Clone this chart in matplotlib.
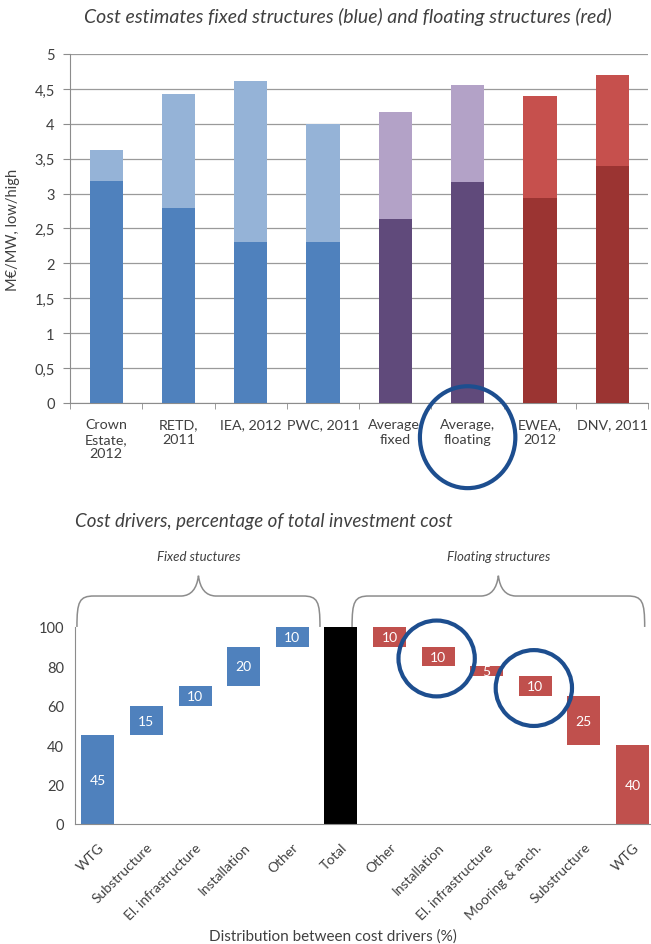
import matplotlib.pyplot as plt
import numpy as np
from matplotlib.patches import Ellipse, PathPatch
from matplotlib.path import Path
import matplotlib.transforms as mtransforms

plt.rcParams['font.family'] = ['Lato', 'DejaVu Sans']

# top chart data
sources = ["Crown\nEstate,\n2012", "RETD,\n2011", "IEA, 2012", "PWC, 2011",
           "Average,\nfixed", "Average,\nfloating", "EWEA,\n2012", "DNV, 2011"]
cost_low = [3.18, 2.8, 2.3, 2.3, 2.64, 3.17, 2.93, 3.4]
cost_high = [3.62, 4.42, 4.62, 4.0, 4.17, 4.56, 4.4, 4.7]
kind = ["fixed", "fixed", "fixed", "fixed", "avg", "avg", "float", "float"]

# bottom chart data
drivers = ["WTG", "Substructure", "El. infrastructure", "Installation", "Other", "Total",
           "Other", "Installation", "El. infrastructure", "Mooring & anch.", "Substructure", "WTG"]
fixed_share = [45, 15, 10, 20, 10]
floating_share = [10, 10, 5, 10, 25, 40]
total_share = 100

dark = {"fixed": "#4F81BD", "avg": "#604A7B", "float": "#9B3432"}
light = {"fixed": "#95B3D7", "avg": "#B3A2C7", "float": "#C6504D"}
txt = "#404040"
grey = "#8C8C8C"
ring = "#1D4E8F"

fig = plt.figure(figsize=(6.51, 9.45), dpi=100)

#Plot 1
ax1 = fig.add_axes([0.1075, 0.5725, 0.8885, 0.3693])
x = np.arange(len(sources))
lo = np.array(cost_low)
hi = np.array(cost_high)
ax1.bar(x, lo, width=0.46, color=[dark[k] for k in kind], zorder=3)
ax1.bar(x, hi - lo, bottom=lo, width=0.46, color=[light[k] for k in kind], zorder=3)
ax1.set_xlim(-0.5, 7.5)
ax1.set_ylim(0, 5)
ax1.set_yticks(np.arange(0, 5.01, 0.5))
ax1.set_yticklabels([("%g" % v).replace(".", ",") for v in np.arange(0, 5.01, 0.5)])
ax1.yaxis.grid(True, color="#9A9A9A", lw=0.9, zorder=0)
ax1.set_xticks(x)
ax1.set_xticklabels(sources, fontsize=10.3, color=txt, linespacing=1.25)
ax1.set_xticks(np.arange(-0.5, 8, 1), minor=True)
ax1.tick_params(axis="x", which="major", length=0, pad=11)
ax1.tick_params(axis="x", which="minor", length=4, color=grey)
ax1.tick_params(axis="y", length=5, color=grey, labelsize=10.5, labelcolor=txt, pad=6)
for s in ["top", "right"]:
    ax1.spines[s].set_visible(False)
for s in ["left", "bottom"]:
    ax1.spines[s].set_color(grey)
ax1.set_ylabel("M€/MW, low/high", fontsize=10.5, color=txt, labelpad=10)
fig.text(0.535, 0.982, "Cost estimates fixed structures (blue) and floating structures (red)",
         ha="center", va="center", style="italic", fontsize=14, color=txt)
# ring around "Average, floating"
ax1.add_patch(Ellipse((5, -0.49), 1.32, 1.46, fill=False, ec=ring, lw=3,
                      clip_on=False, zorder=5))

#Plot 2
ax2 = fig.add_axes([0.1152, 0.127, 0.8848, 0.2085])
pos = np.arange(len(drivers))
fixed_bottom = np.concatenate([[0], np.cumsum(fixed_share)[:-1]])
float_top = total_share - np.concatenate([[0], np.cumsum(floating_share)[:-1]])
float_bottom = float_top - np.array(floating_share)
w = 0.68
ax2.bar(pos[:5], fixed_share, bottom=fixed_bottom, width=w, color="#4F81BD")
ax2.bar(pos[5], total_share, width=w, color="black")
ax2.bar(pos[6:], floating_share, bottom=float_bottom, width=w, color="#C0504D")
for i in range(5):
    ax2.text(pos[i], fixed_bottom[i] + fixed_share[i] / 2, str(fixed_share[i]),
             ha="center", va="center", color="white", fontsize=10)
for i in range(6):
    ax2.text(pos[6 + i], float_bottom[i] + floating_share[i] / 2, str(floating_share[i]),
             ha="center", va="center", color="white", fontsize=10)
ax2.set_xlim(-0.47, 11.38)
ax2.set_ylim(0, 100)
ax2.set_yticks(np.arange(0, 101, 20))
ax2.tick_params(axis="y", length=0, labelsize=10.5, labelcolor=txt, pad=8)
ax2.set_xticks(pos)
ax2.set_xticklabels(drivers, rotation=45, ha="right", rotation_mode="anchor",
                    fontsize=10, color=txt)
ax2.tick_params(axis="x", length=0, pad=12)
for s in ["top", "right"]:
    ax2.spines[s].set_visible(False)
for s in ["left", "bottom"]:
    ax2.spines[s].set_color(grey)
ax2.set_xlabel("Distribution between cost drivers (%)", fontsize=11, color=txt)
ax2.xaxis.set_label_coords(0.447, -0.53)
fig.text(0.115, 0.448, "Cost drivers, percentage of total investment cost",
         ha="left", va="center", style="italic", fontsize=13.5, color=txt)

# braces over both groups
tr = mtransforms.blended_transform_factory(ax2.transData, ax2.transAxes)

def brace(x0, x1, label):
    xm = (x0 + x1) / 2
    r = 0.35
    verts = [(x0, 1.0), (x0, 1.13), (x0 + 0.05, 1.157), (x0 + r, 1.157),
             (xm - r, 1.157), (xm - 0.05, 1.16), (xm, 1.26),
             (xm + 0.05, 1.16), (xm + r, 1.157),
             (x1 - r, 1.157), (x1 - 0.05, 1.157), (x1, 1.13), (x1, 1.0)]
    codes = [Path.MOVETO, Path.CURVE4, Path.CURVE4, Path.CURVE4,
             Path.LINETO, Path.CURVE3, Path.CURVE3,
             Path.CURVE3, Path.CURVE3,
             Path.LINETO, Path.CURVE4, Path.CURVE4, Path.CURVE4]
    ax2.add_patch(PathPatch(Path(verts, codes), fill=False, ec=grey, lw=1.1,
                            transform=tr, clip_on=False))
    ax2.text(xm, 1.36, label, transform=tr, ha="center", va="center",
             style="italic", fontsize=9.5, color=txt)

brace(-0.43, 4.57, "Fixed stuctures")
brace(5.23, 11.25, "Floating structures")

# rings around floating installation and mooring bars
for j in [1, 3]:
    cy = float_bottom[j] + floating_share[j] / 2
    ax2.add_patch(Ellipse((pos[6 + j] - 0.03, cy - 1), 1.57, 38.5, fill=False, ec=ring, lw=3,
                          clip_on=False, zorder=5))

fig.savefig("out.png", dpi=100)
